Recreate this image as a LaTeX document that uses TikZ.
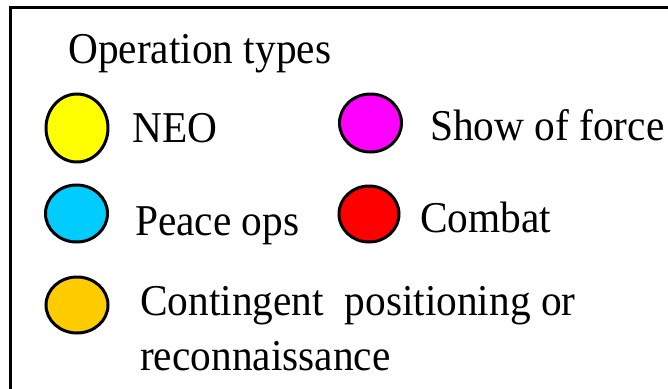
\documentclass[tikz,border=0pt]{standalone}
\usepackage{fontspec}
\setmainfont{Liberation Serif}[FakeStretch=0.94]
\begin{document}
\begin{tikzpicture}[x=1pt,y=-1pt,
  lbl/.style={anchor=base west,inner sep=0pt,font=\fontsize{44}{55}\selectfont},
  dot/.style={draw=black,line width=3pt,ellipse,inner sep=0pt},
]
\useasboundingbox (0,0) rectangle (668,388);
\clip (0,0) rectangle (668,388);
\draw[line width=3pt] (10.5,7.5) rectangle (700,420);
\node[lbl] (title) at (68,63) {Operation types};
\filldraw[line width=3pt,fill={rgb,255:red,255;green,255;blue,0}] (77,128) ellipse (31 and 34);
\node[lbl] (neo) at (132,142) {NEO};
\filldraw[line width=3pt,fill={rgb,255:red,255;green,0;blue,255}] (370.5,123) ellipse (31 and 29);
\node[lbl] (show) at (430,140) {Show of force};
\filldraw[line width=3pt,fill={rgb,255:red,0;green,204;blue,255}] (76.5,213.5) ellipse (31 and 28.5);
\node[lbl] (peace) at (135,235) {Peace ops};
\filldraw[line width=3pt,fill={rgb,255:red,255;green,0;blue,0}] (369,214) ellipse (30 and 28);
\node[lbl] (combat) at (420,232) {Combat};
\filldraw[line width=3pt,fill={rgb,255:red,255;green,204;blue,0}] (77,305) ellipse (31 and 28);
\node[lbl] (cont1) at (140,315) {Contingent\ \ positioning or};
\node[lbl] (cont2) at (140,370) {reconnaissance};
\end{tikzpicture}
\end{document}
